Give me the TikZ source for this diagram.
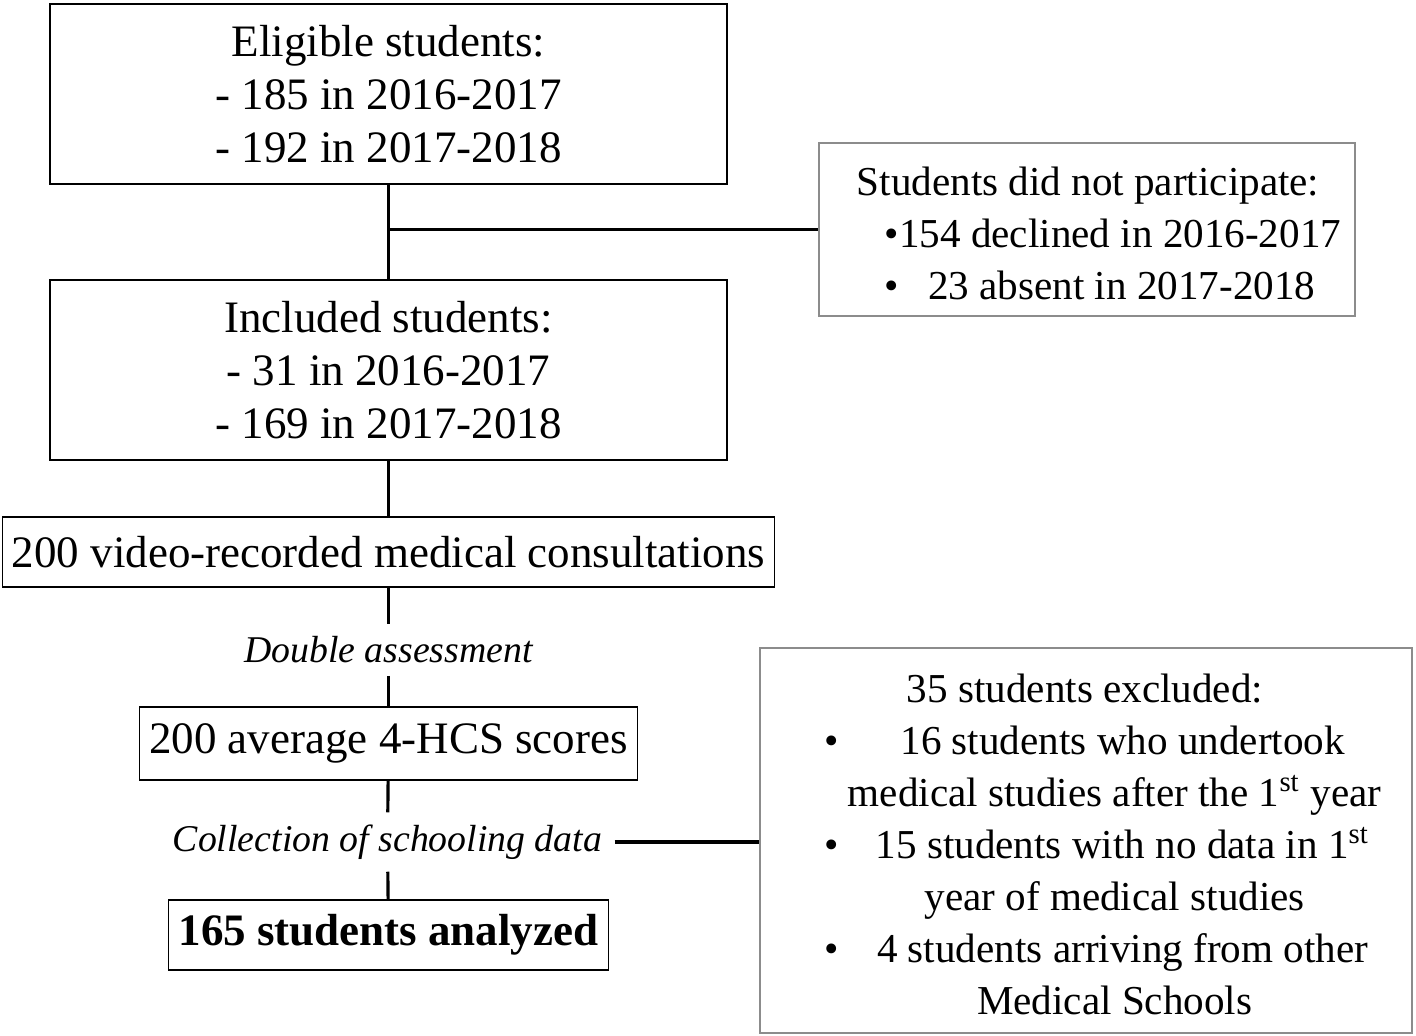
\documentclass[tikz,border=0pt]{standalone}
\usepackage{fontspec}
\setmainfont{Liberation Serif}
\usetikzlibrary{calc, positioning}
\definecolor{boxgrey}{RGB}{140,140,140}
\tikzset{
    flowbox/.style={draw=black, line width=0.5pt, inner sep=0pt, align=center, font=\fontsize{12.8}{15.1}\selectfont},
    sidebox/.style={draw=boxgrey, line width=0.4pt, inner sep=0pt, font=\fontsize{11.7}{14.8}\selectfont},
    steplabel/.style={font=\fontsize{10.75}{13}\selectfont\itshape},
    linkline/.style={line width=0.9pt, draw=black}
}
\begin{document}
\begin{tikzpicture}[x=1cm,y=1cm]
    \useasboundingbox (0,0) rectangle (14.16,-10.36);
    % Main column
    \node[flowbox, minimum width=6.77cm, minimum height=1.80cm] (elig) at (3.885,-0.94) {Eligible students:\\- 185 in 2016-2017\\- 192 in 2017-2018};
    \node[flowbox, minimum width=6.77cm, minimum height=1.80cm] (incl) at (3.885,-3.70) {Included students:\\- 31 in 2016-2017\\- 169 in 2017-2018};
    \node[flowbox, minimum width=7.72cm, minimum height=0.70cm] (video) at (3.885,-5.52) {200 video-recorded medical consultations};
    \node[steplabel] (double) at (3.885,-6.50) {Double assessment};
    \node[flowbox, minimum width=4.98cm, minimum height=0.73cm] (average) at (3.885,-7.435) {200 average 4-HCS scores};
    \node[steplabel] (collect) at (3.875,-8.42) {Collection of schooling data};
    \node[flowbox, minimum width=4.40cm, minimum height=0.70cm, font=\fontsize{12.8}{15.1}\selectfont\bfseries] (analyzed) at (3.885,-9.35) {165 students analyzed};

    % Side boxes
    \node[sidebox, minimum width=5.36cm, minimum height=1.73cm] (notpart) at (10.87,-2.295)
        {\hspace*{0.24cm}\raisebox{-0.08cm}[\height][\depth]{\begin{tabular}{@{}l@{}}
            Students did not participate:\\
            \hspace*{0.28cm}\textbullet154 declined in 2016-2017\\
            \hspace*{0.28cm}\textbullet\hspace{0.29cm}23 absent in 2017-2018
        \end{tabular}}};
    \node[sidebox, minimum width=6.52cm, minimum height=3.85cm] (excluded) at (10.86,-8.405)
        {\hspace*{0.34cm}\raisebox{-0.075cm}[\height][\depth]{\begin{tabular}{@{}l@{\hspace{0.09cm}}c@{}}
            \multicolumn{2}{c}{35 students excluded:\hspace*{0.36cm}}\\
            \textbullet & \hspace*{0.16cm}16 students who undertook\\
                        & medical studies after the 1\textsuperscript{st} year\\
            \textbullet & \hspace*{0.16cm}15 students with no data in 1\textsuperscript{st}\\
                        & year of medical studies\\
            \textbullet & \hspace*{0.16cm}4 students arriving from other\\
                        & Medical Schools
        \end{tabular}}};

    % Connectors
    \draw[linkline] (elig) -- (incl);
    \draw[linkline] (notpart.west -| elig.south) -- (notpart.west);
    \draw[linkline] (incl) -- (video);
    \draw[linkline] (video) -- (double);
    \draw[linkline] (double) -- (average);
    \draw[linkline] (average) -- (collect);
    \draw[linkline] (collect) -- (analyzed);
    \draw[linkline] (collect.east) -- (collect.east -| excluded.west);
\end{tikzpicture}
\end{document}
